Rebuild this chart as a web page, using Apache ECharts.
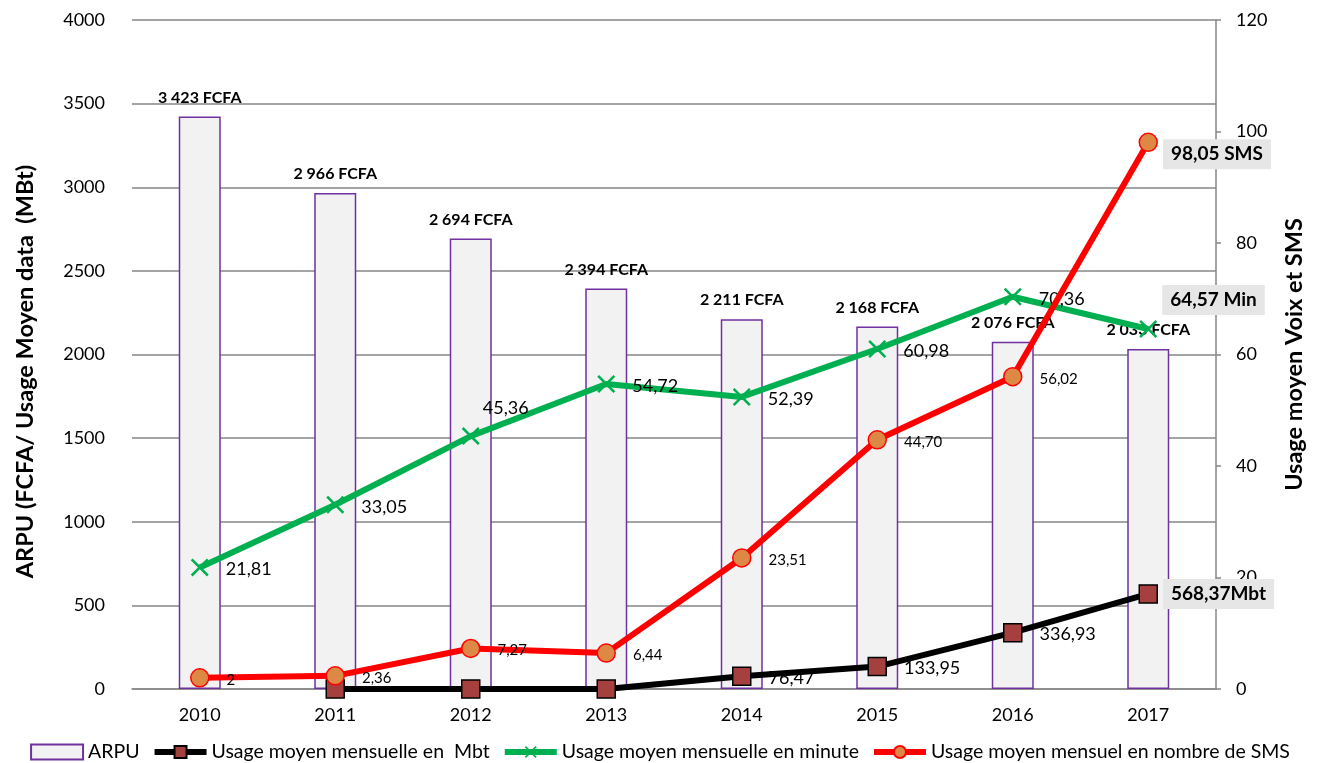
<!DOCTYPE html>
<html>
<head>
<meta charset="utf-8">
<script src="https://cdn.jsdelivr.net/npm/echarts@6/dist/echarts.min.js"></script>
<style>
  html, body { margin: 0; padding: 0; background: #fff; }
  #chart { width: 1320px; height: 763px; }
</style>
</head>
<body>
<div id="chart"></div>
<script>
// données
const years = ['2010', '2011', '2012', '2013', '2014', '2015', '2016', '2017'];
const arpu = [3423, 2966, 2694, 2394, 2211, 2168, 2076, 2033];
const arpuLabels = ['3 423 FCFA', '2 966 FCFA', '2 694 FCFA', '2 394 FCFA', '2 211 FCFA', '2 168 FCFA', '2 076 FCFA', '2 033 FCFA'];
const dataMbt = [null, 0, 0, 0, 76.47, 133.95, 336.93, 568.37];
const dataMbtLabels = ['', '', '', '', '76,47', '133,95', '336,93', '568,37Mbt'];
const minutes = [21.81, 33.05, 45.36, 54.72, 52.39, 60.98, 70.36, 64.57];
const minutesLabels = ['21,81', '33,05', '45,36', '54,72', '52,39', '60,98', '70,36', '64,57 Min'];
const sms = [2, 2.36, 7.27, 6.44, 23.51, 44.70, 56.02, 98.05];
const smsLabels = ['2', '2,36', '7,27', '6,44', '23,51', '44,70', '56,02', '98,05 SMS'];
const leftTicks = { min: 0, max: 4000, interval: 500 };
const rightTicks = { min: 0, max: 120, interval: 20 };

const font = 'Lato, "Open Sans", sans-serif';
const boxLabel = {
  fontWeight: 'bold', fontSize: 19, color: '#000',
  backgroundColor: '#e7e6e6', padding: [6, 8, 5, 8]
};

function lineData(values, labels, size, offsets, last) {
  return values.map((v, i) => {
    if (i === values.length - 1) {
      return { value: v, label: Object.assign({ show: true, position: 'right', distance: 5, formatter: labels[i] }, boxLabel, { offset: last }) };
    }
    return {
      value: v,
      label: {
        show: labels[i] !== '', position: 'right', distance: 17,
        formatter: labels[i], fontSize: size, color: '#000',
        offset: offsets[i] || [0, 2]
      }
    };
  });
}

// croix fine pour la série minutes
const xPath = 'path://M0,1L1,0L5,4L9,0L10,1L6,5L10,9L9,10L5,6L1,10L0,9L4,5Z';

let myChart = echarts.init(document.getElementById('chart'));
let option = {
  animation: false,
  textStyle: { fontFamily: font },
  grid: { left: 132, right: 104, top: 20, bottom: 74, containLabel: false },
  legend: {
    bottom: 1, left: 'center', padding: 0, itemGap: 12, itemWidth: 52, itemHeight: 15,
    textStyle: { fontSize: 19.5, color: '#000', fontFamily: font },
    lineStyle: { width: 6 },
    data: [
      { name: 'ARPU', icon: 'rect' },
      'Usage moyen mensuelle en  Mbt',
      'Usage moyen mensuelle en minute',
      'Usage moyen mensuel en nombre de SMS'
    ]
  },
  xAxis: {
    type: 'category',
    data: years,
    axisTick: { show: false },
    axisLine: { show: true, lineStyle: { color: '#868686', width: 1.5 } },
    axisLabel: { color: '#000', fontSize: 18, margin: 17 }
  },
  yAxis: [{
    type: 'value',
    min: leftTicks.min, max: leftTicks.max, interval: leftTicks.interval,
    name: 'ARPU (FCFA/ Usage Moyen data  (MBt)',
    nameLocation: 'middle', nameRotate: 90, nameGap: 95,
    nameTextStyle: { fontSize: 23.5, fontWeight: 'bold', color: '#000', padding: [0, 34, 0, 0] },
    axisLine: { show: false },
    axisTick: { show: false },
    axisLabel: { color: '#000', fontSize: 18, margin: 27, formatter: v => String(v) },
    splitLine: { show: true, lineStyle: { color: '#868686', width: 1.5 } }
  }, {
    type: 'value',
    position: 'right',
    min: rightTicks.min, max: rightTicks.max, interval: rightTicks.interval,
    name: 'Usage moyen Voix et SMS',
    nameLocation: 'middle', nameRotate: 90, nameGap: 66,
    nameTextStyle: { fontSize: 23.5, fontWeight: 'bold', color: '#000' },
    axisLine: { show: true, lineStyle: { color: '#868686', width: 1.5 } },
    axisTick: { show: true, length: 5, lineStyle: { color: '#868686', width: 1.5 } },
    axisLabel: { color: '#000', fontSize: 18, margin: 20 },
    splitLine: { show: false }
  }],
  series: [
    {
      name: 'ARPU',
      type: 'bar',
      barWidth: 42,
      data: arpu,
      itemStyle: { color: '#f2f2f2', borderColor: '#7030a0', borderWidth: 1.5 },
      label: {
        show: true, position: 'top', distance: 11,
        fontSize: 16, fontWeight: 'bold', color: '#000',
        formatter: p => arpuLabels[p.dataIndex]
      },
      z: 1
    },
    {
      name: 'Usage moyen mensuelle en  Mbt',
      type: 'line',
      data: lineData(dataMbt, dataMbtLabels, 18, {}, [0, 0]),
      symbol: 'rect', symbolSize: 18,
      lineStyle: { color: '#000', width: 6 },
      itemStyle: { color: '#a5403e', borderColor: '#000', borderWidth: 1.5 },
      z: 3
    },
    {
      name: 'Usage moyen mensuelle en minute',
      type: 'line',
      yAxisIndex: 1,
      data: lineData(minutes, minutesLabels, 18, { 2: [-14, -28] }, [0, -29]),
      symbol: xPath, symbolSize: 18,
      lineStyle: { color: '#00b050', width: 6 },
      itemStyle: { color: '#00b050' },
      z: 4
    },
    {
      name: 'Usage moyen mensuel en nombre de SMS',
      type: 'line',
      yAxisIndex: 1,
      data: lineData(sms, smsLabels, 15, {}, [0, 12]),
      symbol: 'circle', symbolSize: 18,
      lineStyle: { color: '#ff0000', width: 6 },
      itemStyle: { color: '#dd8844', borderColor: '#ff0000', borderWidth: 1.5 },
      z: 5
    }
  ]
};
myChart.setOption(option);
window.addEventListener('resize', () => { myChart.resize(); }, true);
</script>
</body>
</html>
